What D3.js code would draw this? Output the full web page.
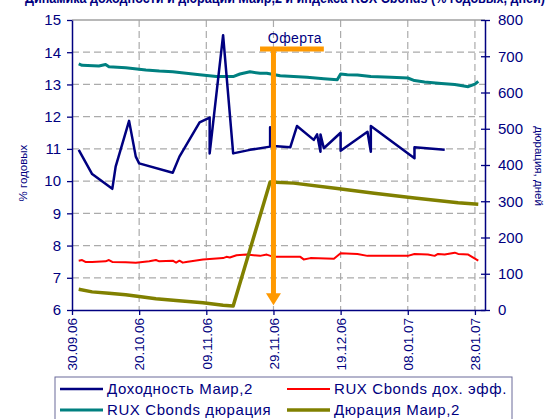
<!DOCTYPE html>
<html>
<head>
<meta charset="utf-8">
<script src="https://cdn.jsdelivr.net/npm/d3@7"></script>
<style>
    body { margin: 0; background: #fff; }
    svg { display: block; font-family: Arial, "Liberation Sans", sans-serif; }
</style>
</head>
<body>
<div id="chart"></div>
<script>
// 数据：Доходность Маир,2 (левая ось, % годовых)
const mairYieldDates = ["02.10.06","06.10.06","12.10.06","13.10.06","17.10.06","19.10.06","20.10.06","30.10.06",
    "01.11.06","07.11.06","10.11.06","10.11.06","14.11.06","17.11.06","22.11.06","28.11.06","28.11.06","29.11.06",
    "04.12.06","06.12.06","11.12.06","12.12.06","13.12.06","13.12.06","14.12.06","19.12.06","19.12.06",
    "27.12.06","28.12.06","28.12.06","10.01.07","10.01.07","19.01.07"];
const mairYield = [10.97,10.22,9.76,10.45,11.87,10.76,10.55,10.26,
    10.76,11.82,11.97,10.86,14.53,10.86,10.97,11.07,11.67,11.09,
    11.05,11.71,11.28,11.45,10.91,11.45,11.02,11.50,10.94,
    11.53,10.91,11.71,10.71,11.05,10.97];

// RUX Cbonds дох. эфф. (левая ось)
const ruxYieldDates = ["02.10.06","03.10.06","04.10.06","06.10.06","10.10.06","11.10.06","12.10.06","16.10.06",
    "19.10.06","23.10.06","25.10.06","26.10.06","30.10.06","31.10.06","01.11.06","02.11.06","03.11.06","08.11.06",
    "14.11.06","15.11.06","16.11.06","18.11.06","21.11.06","25.11.06","27.11.06","29.11.06","07.12.06","08.12.06",
    "10.12.06","17.12.06","19.12.06","24.12.06","27.12.06","08.01.07","10.01.07","14.01.07","16.01.07","17.01.07",
    "19.01.07","22.01.07","23.01.07","26.01.07","29.01.07"];
const ruxYield = [7.53,7.55,7.49,7.49,7.51,7.55,7.49,7.48,
    7.47,7.51,7.55,7.51,7.53,7.47,7.53,7.47,7.49,7.57,
    7.61,7.65,7.63,7.70,7.72,7.68,7.72,7.65,7.65,7.57,
    7.61,7.59,7.76,7.74,7.68,7.68,7.74,7.72,7.68,7.74,
    7.72,7.78,7.74,7.72,7.53];

// RUX Cbonds дюрация (правая ось, дней)
const ruxDurDates = ["02.10.06","03.10.06","08.10.06","10.10.06","11.10.06","16.10.06","18.10.06","22.10.06",
    "26.10.06","30.10.06","03.11.06","07.11.06","12.11.06","15.11.06","17.11.06","19.11.06","22.11.06","25.11.06",
    "27.11.06","01.12.06","05.12.06","09.12.06","14.12.06","18.12.06","19.12.06","21.12.06","24.12.06","28.12.06",
    "03.01.07","08.01.07","10.01.07","13.01.07","18.01.07","22.01.07","26.01.07","28.01.07","29.01.07"];
const ruxDur = [679,675,673,677,671,668,666,662,
    659,657,653,649,644,644,644,651,657,653,
    653,646,644,642,638,635,651,649,648,644,
    642,640,633,629,625,622,616,623,631];

// Дюрация Маир,2 (правая ось)
const mairDurDates = ["02.10.06","06.10.06","11.10.06","16.10.06","20.10.06","25.10.06","31.10.06","08.11.06",
    "14.11.06","17.11.06","28.11.06","05.12.06","18.12.06","29.12.06","10.01.07","23.01.07","29.01.07"];
const mairDur = [57,50,46,42,37,31,26,20,
    13,11,353,350,335,322,309,296,292];

// Оферта
const offerDate = "29.11.06";
const offerTop = 14.1, offerBottom = 6.15;
const offerBarFrom = "25.11.06", offerBarTo = "14.12.06";

// Оси
const xTickLabels = ["30.09.06","20.10.06","09.11.06","29.11.06","19.12.06","08.01.07","28.01.07"];
const leftTicks = [6,7,8,9,10,11,12,13,14,15];
const rightTicks = [0,100,200,300,400,500,600,700,800];

const parse = d3.timeParse("%d.%m.%y");
const zip = (ds, vs) => ds.map((d, i) => ({date: parse(d), value: vs[i]}));

const series = [
    {name: "Доходность Маир,2", color: "#000080", width: 2.5, axis: "L", data: zip(mairYieldDates, mairYield)},
    {name: "RUX Cbonds дох. эфф.", color: "#ff0000", width: 2, axis: "L", data: zip(ruxYieldDates, ruxYield)},
    {name: "RUX Cbonds дюрация", color: "#008080", width: 3, axis: "R", data: zip(ruxDurDates, ruxDur)},
    {name: "Дюрация Маир,2", color: "#808000", width: 3.5, axis: "R", data: zip(mairDurDates, mairDur)}
];

// 画布
const W = 555, H = 419;
const margin = {top: 20, right: 70, bottom: 109, left: 72};
const width = W - margin.left - margin.right,
    height = H - margin.top - margin.bottom;
const navy = "#000080";

const svg = d3.select("#chart").append("svg")
    .attr("width", W)
    .attr("height", H);

// заголовок (обрезан верхним краем, как в исходнике)
svg.append("text")
    .attr("x", 25)
    .attr("y", 3)
    .attr("fill", navy)
    .attr("textLength", 520)
    .attr("lengthAdjust", "spacingAndGlyphs")
    .style("font-size", "15px")
    .style("font-weight", "bold")
    .text("Динамика доходности и дюрации Маир,2 и индекса RUX Cbonds (% годовых, дней)");

const g = svg.append("g")
    .attr("transform", `translate(${margin.left},${margin.top})`);

const x = d3.scaleTime()
    .domain([parse("30.09.06"), parse("31.01.07")])
    .range([0, width]);
const yL = d3.scaleLinear().domain([6, 15]).range([height, 0]);
const yR = d3.scaleLinear().domain([0, 800]).range([height, 0]);

// сетка
g.append("g").selectAll("line")
    .data(leftTicks.slice(1, -1))
    .join("line")
    .attr("x1", 0).attr("x2", width)
    .attr("y1", d => yL(d)).attr("y2", d => yL(d))
    .attr("stroke", "#ababab")
    .attr("stroke-width", 1.2)
    .attr("stroke-dasharray", "7,4");
g.append("g").selectAll("line")
    .data(xTickLabels.slice(1))
    .join("line")
    .attr("x1", d => x(parse(d))).attr("x2", d => x(parse(d)))
    .attr("y1", 0).attr("y2", height)
    .attr("stroke", "#ababab")
    .attr("stroke-width", 1.2)
    .attr("stroke-dasharray", "7,4");
g.append("line")
    .attr("x1", 0).attr("x2", width)
    .attr("y1", 0).attr("y2", 0)
    .attr("stroke", "#a0a0a0")
    .attr("stroke-width", 1.5);

// линии
const line = s => d3.line()
    .x(d => x(d.date))
    .y(d => (s.axis === "L" ? yL : yR)(d.value));

[series[1], series[2], series[3], series[0]].forEach(s => {
    g.append("path")
        .datum(s.data)
        .attr("fill", "none")
        .attr("stroke", s.color)
        .attr("stroke-width", s.width)
        .attr("stroke-linejoin", "round")
        .attr("d", line(s));
});

// Оферта
const orange = "#ff9900";
const ox = x(parse(offerDate));
g.append("line")
    .attr("x1", x(parse(offerBarFrom))).attr("x2", x(parse(offerBarTo)))
    .attr("y1", yL(offerTop)).attr("y2", yL(offerTop))
    .attr("stroke", orange).attr("stroke-width", 5);
g.append("line")
    .attr("x1", ox).attr("x2", ox)
    .attr("y1", yL(offerTop)).attr("y2", yL(offerBottom) - 10)
    .attr("stroke", orange).attr("stroke-width", 5);
g.append("path")
    .attr("d", `M${ox - 7.5},${yL(offerBottom) - 12} L${ox + 7.5},${yL(offerBottom) - 12} L${ox},${yL(offerBottom)} Z`)
    .attr("fill", orange);
g.append("text")
    .attr("x", (x(parse(offerBarFrom)) + x(parse(offerBarTo))) / 2 + 3)
    .attr("y", yL(offerTop) - 6)
    .attr("text-anchor", "middle")
    .attr("fill", navy)
    .style("font-size", "14px")
    .style("letter-spacing", "0.4px")
    .text("Оферта");

// оси
const styleAxis = sel => {
    sel.select(".domain").attr("stroke", navy).attr("stroke-width", 1.5);
    sel.selectAll(".tick line").attr("stroke", navy).attr("stroke-width", 1.3);
    sel.selectAll(".tick text").attr("fill", navy).style("font-size", "15px").style("font-family", "Arial, sans-serif");
};

g.append("g")
    .call(d3.axisLeft(yL).tickValues(leftTicks).tickSize(5).tickSizeOuter(0).tickPadding(6))
    .call(styleAxis);

const rAxis = g.append("g")
    .attr("transform", `translate(${width},0)`)
    .call(d3.axisRight(yR).tickValues(rightTicks).tickSize(5).tickSizeOuter(0).tickPadding(8))
    .call(styleAxis);
rAxis.selectAll(".tick line").attr("x1", -4);

const xAxis = g.append("g")
    .attr("transform", `translate(0,${height})`)
    .call(d3.axisBottom(x).tickValues(xTickLabels.map(parse)).tickFormat(d3.timeFormat("%d.%m.%y")).tickSize(5).tickSizeOuter(0))
    .call(styleAxis);
xAxis.selectAll(".tick text")
    .style("font-size", "13.5px")
    .attr("text-anchor", "end")
    .attr("transform", "rotate(-90)")
    .attr("x", -8)
    .attr("y", 0)
    .attr("dy", "0.35em");

// подписи осей
svg.append("text")
    .attr("transform", `translate(27,${margin.top + height / 2 + 8}) rotate(-90)`)
    .attr("text-anchor", "middle")
    .attr("fill", navy)
    .style("font-size", "11.5px")
    .text("% годовых");
svg.append("text")
    .attr("transform", `translate(535,${margin.top + height / 2 + 1}) rotate(90)`)
    .attr("text-anchor", "middle")
    .attr("fill", navy)
    .style("font-size", "11.5px")
    .text("дюрация, дней");

// легенда
const legend = svg.append("g").attr("transform", "translate(55,377)");
legend.append("rect")
    .attr("width", 457).attr("height", 60)
    .attr("fill", "#fff")
    .attr("stroke", "#6a6a9a")
    .attr("stroke-width", 1);
const legendItems = legend.selectAll(".legend")
    .data(series)
    .join("g")
    .attr("class", "legend")
    .attr("transform", (d, i) => `translate(${i % 2 ? 232 : 5},${i < 2 ? 12 : 33})`);
legendItems.append("line")
    .attr("x1", 0).attr("x2", 43)
    .attr("stroke", d => d.color)
    .attr("stroke-width", d => d.width);
legendItems.append("text")
    .attr("x", 47)
    .attr("dy", "0.35em")
    .attr("fill", navy)
    .style("font-size", "15px")
    .style("letter-spacing", "0.6px")
    .text(d => d.name);
</script>
</body>
</html>
